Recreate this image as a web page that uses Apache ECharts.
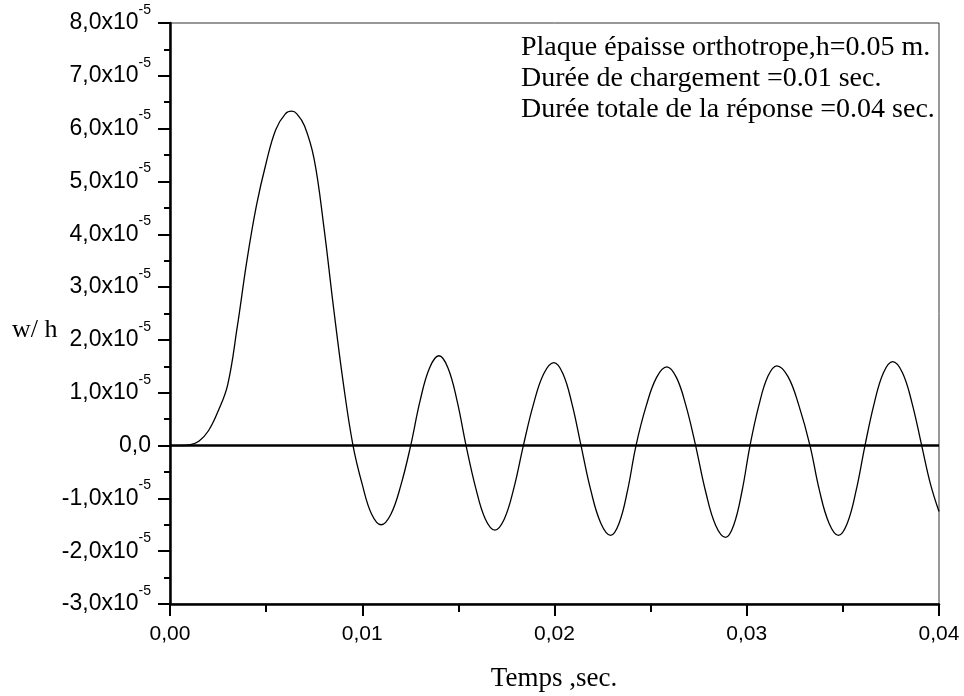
<!DOCTYPE html>
<html>
<head>
<meta charset="utf-8">
<script src="https://cdn.jsdelivr.net/npm/echarts@6/dist/echarts.min.js"></script>
<style>
html,body{margin:0;padding:0;background:#fff;}
#chart{width:964px;height:696px;}
</style>
</head>
<body>
<div id="chart"></div>
<script>
// Time (s)
const timeSec = [
  0, 0.0005, 0.0010, 0.0015, 0.0020, 0.0025, 0.0030, 0.0035, 0.0040, 0.0045,
  0.0050, 0.0055, 0.0060, 0.00633, 0.0066, 0.0070, 0.0075, 0.0080, 0.0085, 0.0090,
  0.00952, 0.01001, 0.01049, 0.01098, 0.01149, 0.01201,
  0.01252, 0.01301, 0.01350, 0.01399, 0.01446, 0.01493,
  0.0154, 0.0159, 0.0164, 0.0169, 0.01739, 0.01789,
  0.01838, 0.01891, 0.01944, 0.01997, 0.02044, 0.02091,
  0.02138, 0.02189, 0.02241, 0.02292, 0.02336, 0.0238,
  0.02424, 0.02477, 0.02531, 0.02584, 0.02634, 0.02684,
  0.02734, 0.02786, 0.02838, 0.0289, 0.02932, 0.02975,
  0.03017, 0.03063, 0.0311, 0.03156, 0.03214, 0.03271,
  0.03329, 0.03378, 0.03428, 0.03477, 0.03523, 0.03569,
  0.03615, 0.03663, 0.03711, 0.03759, 0.0381, 0.0386,
  0.0391, 0.03955, 0.0400
];
// w/h in units of 1e-5
const wOverH_e5 = [
  0, 0, 0.01, 0.08, 0.28, 0.65, 1.15, 2.25, 3.50, 4.55,
  5.35, 5.98, 6.28, 6.33, 6.28, 6.05, 5.42, 4.15, 2.63, 1.22,
  0.0, -0.75, -1.30, -1.50, -1.30, -0.75,
  0.0, 0.85, 1.47, 1.70, 1.47, 0.85,
  0.0, -0.80, -1.39, -1.60, -1.39, -0.80,
  0.0, 0.79, 1.36, 1.57, 1.36, 0.79,
  0.0, -0.85, -1.47, -1.70, -1.47, -0.85,
  0.0, 0.75, 1.29, 1.49, 1.29, 0.75,
  0.0, -0.87, -1.51, -1.74, -1.51, -0.87,
  0.0, 0.76, 1.31, 1.51, 1.31, 0.76,
  0.0, -0.85, -1.47, -1.70, -1.47, -0.85,
  0.0, 0.80, 1.38, 1.59, 1.38, 0.80,
  0.0, -0.72, -1.25
];
const annotationLines = [
  'Plaque épaisse orthotrope,h=0.05 m.',
  'Durée de chargement =0.01 sec.',
  'Durée totale de la réponse =0.04 sec.'
];
const xAxisTitle = 'Temps ,sec.';
const yAxisTitle = 'w/ h';

const seriesData = timeSec.map((t, i) => [t, wOverH_e5[i]]);

const chart = echarts.init(document.getElementById('chart'), null, {renderer: 'canvas'});
const serif = '"Liberation Serif", "Times New Roman", serif';
const sans = '"Liberation Sans", Arial, sans-serif';

const annotationY = [48, 79, 110];

chart.setOption({
  animation: false,
  backgroundColor: '#fff',
  grid: {
    left: 170, right: 25, top: 23, bottom: 92,
    show: true, borderColor: '#333', borderWidth: 1, backgroundColor: 'transparent'
  },
  xAxis: {
    type: 'value', min: 0, max: 0.04, interval: 0.01,
    axisLine: {show: true, onZero: false, lineStyle: {color: '#000', width: 2.5}},
    axisTick: {show: true, inside: false, length: 12, lineStyle: {color: '#000', width: 2}},
    minorTick: {show: true, splitNumber: 2, length: 8, lineStyle: {color: '#000', width: 2}},
    splitLine: {show: false},
    axisLabel: {
      margin: 20, color: '#000', fontFamily: sans, fontSize: 21,
      showMaxLabel: true, showMinLabel: true,
      formatter: v => v.toFixed(2).replace('.', ',')
    }
  },
  yAxis: {
    type: 'value', min: -3, max: 8, interval: 1,
    axisLine: {show: true, onZero: false, lineStyle: {color: '#000', width: 2.5}},
    axisTick: {show: true, inside: false, length: 12, lineStyle: {color: '#000', width: 2}},
    minorTick: {show: true, splitNumber: 2, length: 6, lineStyle: {color: '#000', width: 2}},
    splitLine: {show: false},
    axisLabel: {
      margin: 19, color: '#000', fontFamily: sans, fontSize: 23,
      formatter: v => {
        if (Math.abs(v) < 1e-9) return '{a|0,0}';
        return '{a|' + v.toFixed(1).replace('.', ',') + 'x10}{s|-5}';
      },
      rich: {
        a: {fontFamily: sans, fontSize: 23, color: '#000', lineHeight: 40, verticalAlign: 'middle'},
        s: {fontFamily: sans, fontSize: 14, color: '#000', lineHeight: 14, verticalAlign: 'top'}
      }
    }
  },
  series: [{
    type: 'line',
    data: seriesData,
    showSymbol: false,
    smooth: 0.4,
    lineStyle: {color: '#000', width: 1.3},
    markLine: {
      silent: true,
      symbol: 'none',
      label: {show: false},
      lineStyle: {color: '#000', width: 2.5, type: 'solid'},
      data: [{yAxis: 0}]
    }
  }],
  graphic: [
    ...annotationLines.map((txt, i) => ({
      type: 'text', x: 521, y: annotationY[i],
      style: {text: txt, fontFamily: serif, fontSize: 28, fill: '#000', verticalAlign: 'middle'}
    })),
    {
      type: 'text', x: 12, y: 330,
      style: {text: yAxisTitle, fontFamily: serif, fontSize: 26, fill: '#000', verticalAlign: 'middle'}
    },
    {
      type: 'text', x: 554, y: 679,
      style: {text: xAxisTitle, fontFamily: serif, fontSize: 27, fill: '#000', align: 'center', verticalAlign: 'middle'}
    }
  ]
});
</script>
</body>
</html>
